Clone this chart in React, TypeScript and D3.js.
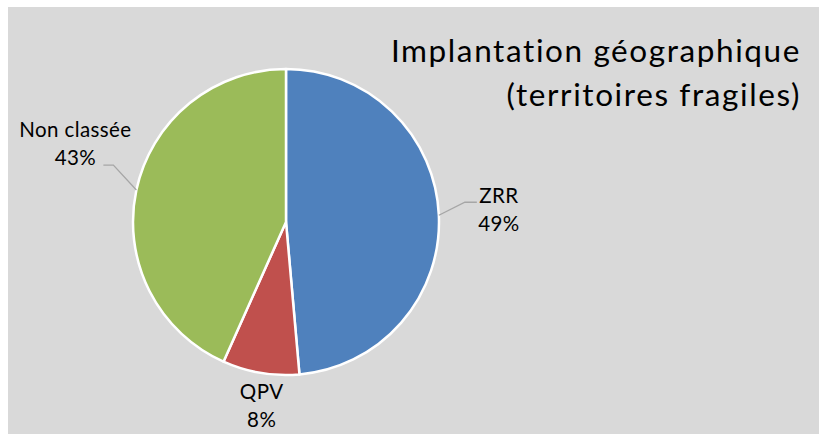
import React from "react";
import * as d3 from "d3";

const categories = ["ZRR", "QPV", "Non classée"];
const values = [48.6, 8.1, 43.3];
const colors = ["#4f81bd", "#c0504d", "#9bbb59"];
const titleLines = ["Implantation géographique", "(territoires fragiles)"];

const W = 819;
const H = 434;
const cx = 286;
const cy = 222;
const R = 153;
const FONT = "Lato, 'Open Sans', sans-serif";

export default function App() {
  const pie = d3.pie<number>().sort(null).value((d) => d)(values);
  const arc = d3.arc<d3.PieArcDatum<number>>().innerRadius(0).outerRadius(R);
  const total = d3.sum(values);
  const edge = (a: number, r: number) => [Math.sin(a) * r, -Math.cos(a) * r];

  // label layout (offsets from slice mid-edge point)
  const labelLayout = [
    { leader: true, elbow: [26, -13], end: [38, -13], text: [60, -10], anchor: "middle" },
    { leader: false, elbow: [0, 0], end: [0, 0], text: [1, 28], anchor: "middle" },
    { leader: true, elbow: [-23, -25], end: [-33, -25], text: [-61, -51], anchor: "middle" },
  ];

  return (
    <svg width={W} height={H} style={{ position: "absolute", left: 0, top: 0 }}>
      <rect x={8} y={7} width={W - 8} height={H - 7} fill="#d9d9d9" />
      <g fontFamily={FONT} fill="#000" textAnchor="end" fontSize={31.5} style={{ fontVariantLigatures: "none", letterSpacing: "1.6px" }}>
        {titleLines.map((t, i) => (
          <text key={i} x={801} y={62 + i * 44}>
            {t}
          </text>
        ))}
      </g>
      <g transform={`translate(${cx},${cy})`}>
        {pie.map((p, i) => (
          <path key={i} d={arc(p) || ""} fill={colors[i]} stroke="#fff" strokeWidth={2.5} strokeLinejoin="round" />
        ))}
        {pie.map((p, i) => {
          const mid = (p.startAngle + p.endAngle) / 2;
          const [ex, ey] = edge(mid, R);
          const L = labelLayout[i];
          const pct = Math.round((values[i] / total) * 100) + "%";
          const tx = ex + L.text[0];
          const ty = ey + L.text[1];
          return (
            <g key={"l" + i}>
              {L.leader && (
                <polyline
                  points={`${ex},${ey} ${ex + L.elbow[0]},${ey + L.elbow[1]} ${ex + L.end[0]},${ey + L.end[1]}`}
                  fill="none"
                  stroke="#a6a6a6"
                  strokeWidth={1.3}
                />
              )}
              <text x={tx} y={ty} fontFamily={FONT} fontSize={20.5} textAnchor={L.anchor as any} fill="#000" style={{ letterSpacing: "0.4px" }}>
                <tspan x={tx} dy={-2}>{categories[i]}</tspan>
                <tspan x={tx} dy={28}>{pct}</tspan>
              </text>
            </g>
          );
        })}
      </g>
    </svg>
  );
}
